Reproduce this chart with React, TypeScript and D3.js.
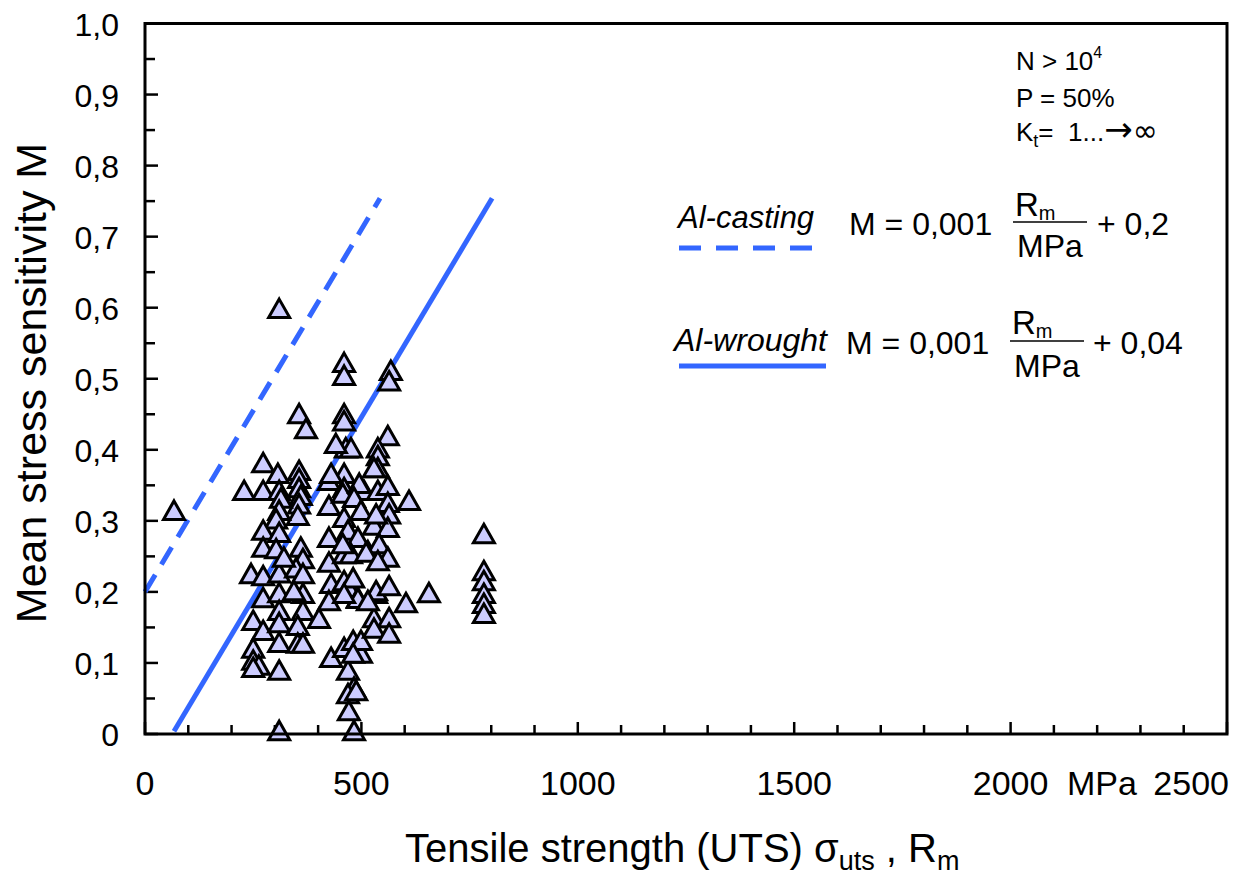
import React from "react";
import * as d3 from "d3";

// ---- data ----
const utsMPa: number[] = [
  67, 310, 460, 460, 568, 564, 356, 372, 460, 460, 464, 476, 561, 538, 538, 538,
  273, 307, 356, 356, 356, 360, 356, 353, 229, 273, 310, 314, 310, 303, 273, 310,
  273, 303, 360, 365, 245, 273, 310, 349, 365, 321, 273, 310, 365, 344, 310, 365,
  250, 273, 310, 353, 402, 310, 353, 365, 250, 250, 263, 250, 310, 310,
  441, 425, 460, 460, 430, 425, 457, 460, 425, 469, 492, 425, 460, 515, 476, 430,
  460, 471, 425, 492, 534, 430, 460, 481, 499, 499, 469, 483, 469, 471, 483,
  529, 506, 495, 538, 561, 610, 483, 561, 499, 564, 529, 561, 534, 541, 561, 511,
  538, 481, 492, 534, 564, 656, 603, 529, 564, 529, 564, 515, 481, 488, 460, 457,
  783, 783, 783, 783, 783, 783,
];
const meanSens: number[] = [
  0.314, 0.598, 0.522, 0.504, 0.511, 0.496, 0.45, 0.429, 0.45, 0.44, 0.402, 0.402, 0.419, 0.402, 0.391, 0.374,
  0.381, 0.366, 0.37, 0.359, 0.346, 0.335, 0.323, 0.307, 0.342, 0.342, 0.342, 0.331, 0.314, 0.302, 0.286, 0.283,
  0.262, 0.26, 0.262, 0.246, 0.225, 0.222, 0.226, 0.233, 0.225, 0.248, 0.191, 0.198, 0.197, 0.201, 0.173, 0.173,
  0.159, 0.145, 0.156, 0.152, 0.162, 0.128, 0.127, 0.127, 0.12, 0.103, 0.096, 0.093, 0.089, 0.004,
  0.408, 0.356, 0.366, 0.346, 0.366, 0.321, 0.338, 0.304, 0.276, 0.286, 0.276, 0.241, 0.253, 0.257, 0.253, 0.211,
  0.215, 0.205, 0.187, 0.191, 0.197, 0.107, 0.121, 0.131, 0.113, 0.131, 0.089, 0.065, 0.056, 0.032, 0.004,
  0.374, 0.342, 0.352, 0.342, 0.349, 0.328, 0.332, 0.325, 0.314, 0.309, 0.293, 0.29, 0.309, 0.267, 0.248, 0.255,
  0.243, 0.219, 0.19, 0.201, 0.208, 0.198, 0.184, 0.163, 0.163, 0.148, 0.141, 0.187, 0.113, 0.06, 0.197, 0.267,
  0.281, 0.229, 0.215, 0.197, 0.183, 0.169,
];

// fitted lines (end points)
const castingLineX: number[] = [0, 543];
const castingLineY: number[] = [0.2, 0.754];
const wroughtLineX: number[] = [67, 802];
const wroughtLineY: number[] = [0.004, 0.754];

const xTickLabels: number[] = [0, 500, 1000, 1500, 2000, 2500];
const yTickValues: number[] = [0, 0.1, 0.2, 0.3, 0.4, 0.5, 0.6, 0.7, 0.8, 0.9, 1.0];

const BLUE = "#3366ff";
const FILL = "#ccccff";
const FONT = "'Liberation Sans', Arial, Helvetica, sans-serif";

export default function App() {
  const W = 1233;
  const H = 875;
  const left = 145;
  const right = 1227;
  const top = 23.5;
  const bottom = 734;

  const x = d3.scaleLinear().domain([0, 2500]).range([left, right]);
  const y = d3.scaleLinear().domain([0, 1]).range([bottom, top]);

  const line = d3
    .line<[number, number]>()
    .x((d) => x(d[0]))
    .y((d) => y(d[1]));

  const casting = castingLineX.map((v, i) => [v, castingLineY[i]] as [number, number]);
  const wrought = wroughtLineX.map((v, i) => [v, wroughtLineY[i]] as [number, number]);

  const xMinor = d3.range(0, 2501, 100);
  const yMinor = d3.range(0, 1.0001, 0.05);

  const tri = "M0,-10L10.5,8.5L-10.5,8.5Z";

  const fmt = (v: number) => (v === 0 ? "0" : v.toFixed(1).replace(".", ","));

  return (
    <svg
      width={W}
      height={H}
      style={{ position: "absolute", left: 0, top: 0, background: "#fff" }}
      fontFamily={FONT}
    >
      <rect x={0} y={0} width={W} height={H} fill="#fff" />

      {/* ticks */}
      {xMinor.map((v) => (
        <line
          key={"xt" + v}
          x1={x(v)}
          x2={x(v)}
          y1={bottom}
          y2={bottom - (v % 500 === 0 ? 12 : 9)}
          stroke="#000"
          strokeWidth={2.5}
        />
      ))}
      {yMinor.map((v, i) => (
        <line
          key={"yt" + i}
          x1={left}
          x2={left + (i % 2 === 0 ? 13 : 10)}
          y1={y(v)}
          y2={y(v)}
          stroke="#000"
          strokeWidth={2.5}
        />
      ))}

      {/* lines */}
      <path
        d={line(casting) || ""}
        fill="none"
        stroke={BLUE}
        strokeWidth={5}
        strokeDasharray="20 12"
      />
      <path d={line(wrought) || ""} fill="none" stroke={BLUE} strokeWidth={5} />

      {/* points */}
      {utsMPa.map((v, i) => (
        <path
          key={"p" + i}
          d={tri}
          transform={`translate(${x(v)},${y(meanSens[i])})`}
          fill={FILL}
          stroke="#000"
          strokeWidth={3}
          strokeLinejoin="miter"
        />
      ))}

      {/* frame */}
      <rect
        x={left}
        y={top}
        width={right - left}
        height={bottom - top}
        fill="none"
        stroke="#000"
        strokeWidth={3}
      />

      {/* y tick labels */}
      {yTickValues.map((v) => (
        <text
          key={"yl" + v}
          x={119}
          y={y(v) + 12}
          textAnchor="end"
          fontSize={32}
          fill="#000"
        >
          {fmt(v)}
        </text>
      ))}

      {/* x tick labels */}
      {xTickLabels.map((v) => (
        <text
          key={"xl" + v}
          x={v === 2500 ? x(v) + 2 : x(v)}
          y={795}
          textAnchor={v === 2500 ? "end" : "middle"}
          fontSize={34}
          fill="#000"
        >
          {v}
        </text>
      ))}
      <text x={1102} y={795} textAnchor="middle" fontSize={34} fill="#000">
        MPa
      </text>

      {/* axis titles */}
      <text
        transform={`translate(46,${383}) rotate(-90)`}
        textAnchor="middle"
        fontSize={43}
        fill="#000"
      >
        Mean stress sensitivity M
      </text>
      <text x={405} y={862} fontSize={40} fill="#000">
        Tensile strength (UTS) σ
        <tspan fontSize={27} dy={8}>uts</tspan>
        <tspan dy={-8}> , R</tspan>
        <tspan fontSize={27} dy={8}>m</tspan>
      </text>

      {/* conditions */}
      <text x={1016} y={70} fontSize={26} fill="#000">
        N &gt; 10
        <tspan fontSize={16} dy={-12}>4</tspan>
      </text>
      <text x={1016} y={107} fontSize={26} fill="#000">
        P = 50%
      </text>
      <text x={1016} y={141} fontSize={26} fill="#000">
        K<tspan fontSize={18} dy={6}>t</tspan>
        <tspan dy={-6}>{"=\u00a0\u00a01..."}</tspan>
        <tspan fontFamily="'DejaVu Sans'" fontSize={34}>{"\u2192"}</tspan>
        <tspan fontFamily="'DejaVu Sans'" fontSize={30}>{"\u221e"}</tspan>
      </text>

      {/* legend: casting */}
      <text x={678} y={228} fontSize={31} fontStyle="italic" fill="#000">
        Al-casting
      </text>
      <line
        x1={679}
        x2={813}
        y1={248}
        y2={248}
        stroke={BLUE}
        strokeWidth={5}
        strokeDasharray="22 15"
      />
      <text x={849} y={235} fontSize={32} fill="#000">
        M = 0,001
      </text>
      <text x={1015} y={216} fontSize={33} fill="#000">
        R<tspan fontSize={20} dy={4}>m</tspan>
      </text>
      <line x1={1013} x2={1087} y1={222} y2={222} stroke="#000" strokeWidth={1.5} />
      <text x={1050} y={257} textAnchor="middle" fontSize={32} fill="#000">
        MPa
      </text>
      <text x={1097} y={235} fontSize={32} fill="#000">
        + 0,2
      </text>

      {/* legend: wrought */}
      <text x={674} y={351} fontSize={32} fontStyle="italic" fill="#000">
        Al-wrought
      </text>
      <line x1={679} x2={826} y1={366} y2={366} stroke={BLUE} strokeWidth={5} />
      <text x={846} y={354} fontSize={32} fill="#000">
        M = 0,001
      </text>
      <text x={1012} y={334} fontSize={33} fill="#000">
        R<tspan fontSize={20} dy={4}>m</tspan>
      </text>
      <line x1={1010} x2={1084} y1={341} y2={341} stroke="#000" strokeWidth={1.5} />
      <text x={1047} y={377} textAnchor="middle" fontSize={32} fill="#000">
        MPa
      </text>
      <text x={1093} y={354} fontSize={32} fill="#000">
        + 0,04
      </text>
    </svg>
  );
}
